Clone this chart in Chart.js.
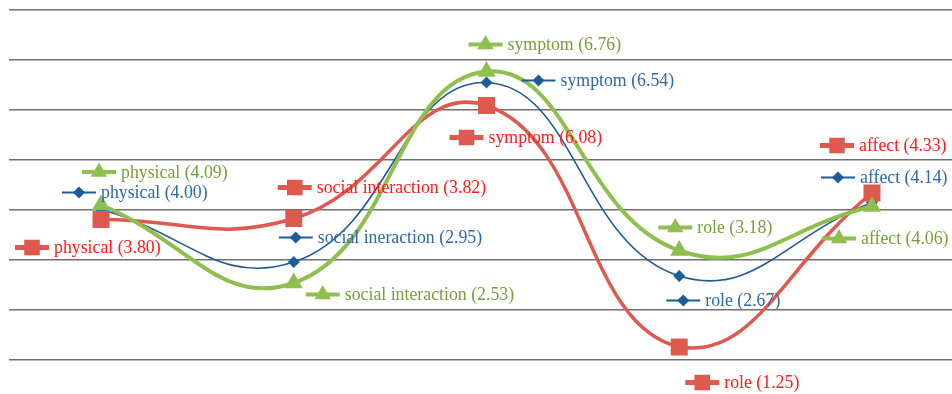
<!DOCTYPE html>
<html>
<head>
<meta charset="utf-8">
<script src="https://cdn.jsdelivr.net/npm/chart.js@4.4.1/dist/chart.umd.min.js"></script>
<style>
  html, body { margin: 0; padding: 0; background: #fff; }
  #wrap { width: 952px; height: 394px; position: relative; }
</style>
</head>
<body>
<div id="wrap"><canvas id="qolChart"></canvas></div>
<script>
// categories on the x axis
var categories = ['physical', 'social interaction', 'symptom', 'role', 'affect'];
// series values
var greenValues = [4.09, 2.53, 6.76, 3.18, 4.06];
var redValues = [3.80, 3.82, 6.08, 1.25, 4.33];
var blueValues = [4.00, 2.95, 6.54, 2.67, 4.14];
// names used in the data labels (the blue one has a typo in the original)
var greenNames = categories;
var redNames = categories;
var blueNames = ['physical', 'social ineraction', 'symptom', 'role', 'affect'];
// y grid ticks
var yTicks = [1, 2, 3, 4, 5, 6, 7, 8];

//NOTE: label offsets (key center, relative to the point) are layout only
var greenOffsets = [[-2, -33], [29, 11.5], [-1, -27], [-4, -23], [-33, 32]];
var redOffsets = [[-69, 28], [1, -31], [-20, 32], [23, 35.5], [-35, -47.5]];
var blueOffsets = [[-22, -17], [2, -24.5], [52, -2], [4, 24.5], [-34, -25]];

function toPoints(values) {
    return values.map((v, i) => ({x: i, y: v}));
}

function drawMarker(ctx, style, x, y, r, color) {
    ctx.save();
    ctx.fillStyle = color;
    ctx.beginPath();
    if (style == 'rect') {
        var s = r * Math.SQRT1_2;
        ctx.rect(x - s, y - s, 2 * s, 2 * s);
    } else if (style == 'triangle') {
        ctx.moveTo(x, y - r);
        ctx.lineTo(x + r * 0.866, y + r / 2);
        ctx.lineTo(x - r * 0.866, y + r / 2);
        ctx.closePath();
    } else {
        ctx.moveTo(x - r, y);
        ctx.lineTo(x, y - r);
        ctx.lineTo(x + r, y);
        ctx.lineTo(x, y + r);
        ctx.closePath();
    }
    ctx.fill();
    ctx.restore();
}

//Draws a small legend key plus text next to every point
const keyLabels = {
    id: 'keyLabels',
    afterDraw(chart) {
        var ctx = chart.ctx;
        chart.data.datasets.forEach((ds, dsIndex) => {
            var meta = chart.getDatasetMeta(dsIndex);
            meta.data.forEach((pt, i) => {
                var off = ds.labelOffsets[i];
                var cx = pt.x + off[0];
                var cy = pt.y + off[1];
                ctx.save();
                ctx.strokeStyle = ds.borderColor;
                ctx.lineWidth = ds.keyLineWidth;
                ctx.beginPath();
                ctx.moveTo(cx - 17, cy);
                ctx.lineTo(cx + 17, cy);
                ctx.stroke();
                ctx.restore();
                drawMarker(ctx, ds.pointStyle, cx, cy, ds.keyRadius, ds.pointBackgroundColor);
                ctx.save();
                ctx.font = '17.8px "Liberation Serif", "Times New Roman", serif';
                ctx.fillStyle = ds.textColor;
                ctx.textBaseline = 'middle';
                ctx.textAlign = 'left';
                ctx.fillText(ds.names[i] + ' (' + ds.data[i].y.toFixed(2) + ')', cx + 22, cy + 1);
                ctx.restore();
            });
        });
    }
};

var canvas = document.getElementById('qolChart').getContext('2d');
var chart = new Chart(canvas, {
    type: 'line',
    data: {
        datasets: [
            {
                data: toPoints(greenValues),
                names: greenNames,
                labelOffsets: greenOffsets,
                borderColor: '#8fbf4f',
                borderWidth: 4,
                pointStyle: 'triangle',
                pointRadius: 10.5,
                pointBackgroundColor: '#8fbf4f',
                pointBorderWidth: 0,
                keyLineWidth: 4,
                keyRadius: 9.5,
                textColor: '#77a03c',
                tension: 0.45
            },
            {
                data: toPoints(redValues),
                names: redNames,
                labelOffsets: redOffsets,
                borderColor: '#e0594f',
                borderWidth: 3.5,
                pointStyle: 'rect',
                pointRadius: 12,
                pointBackgroundColor: '#e0594f',
                pointBorderWidth: 0,
                keyLineWidth: 5,
                keyRadius: 11,
                textColor: '#ff1a1a',
                tension: 0.45
            },
            {
                data: toPoints(blueValues),
                names: blueNames,
                labelOffsets: blueOffsets,
                borderColor: '#1f5b97',
                borderWidth: 1.6,
                pointStyle: 'rectRot',
                pointRadius: 6,
                pointBackgroundColor: '#1f5b97',
                pointBorderWidth: 0,
                keyLineWidth: 2,
                keyRadius: 6,
                textColor: '#2f68a6',
                tension: 0.45
            }
        ]
    },
    options: {
        responsive: true,
        maintainAspectRatio: false,
        animation: false,
        layout: {autoPadding: false, padding: {left: 9, top: 9.5, right: 0, bottom: 34.5}},
        plugins: {legend: {display: false}, tooltip: {enabled: false}},
        scales: {
            x: {
                type: 'linear',
                display: false,
                min: -92 / 192.75,
                max: 4 + 80 / 192.75
            },
            y: {
                min: yTicks[0],
                max: yTicks[yTicks.length - 1],
                afterBuildTicks: axis => { axis.ticks = yTicks.map(v => ({value: v})); },
                ticks: {display: false},
                border: {display: false},
                grid: {color: '#707070', lineWidth: 1.5, drawTicks: false}
            }
        }
    },
    plugins: [keyLabels]
});
</script>
</body>
</html>
